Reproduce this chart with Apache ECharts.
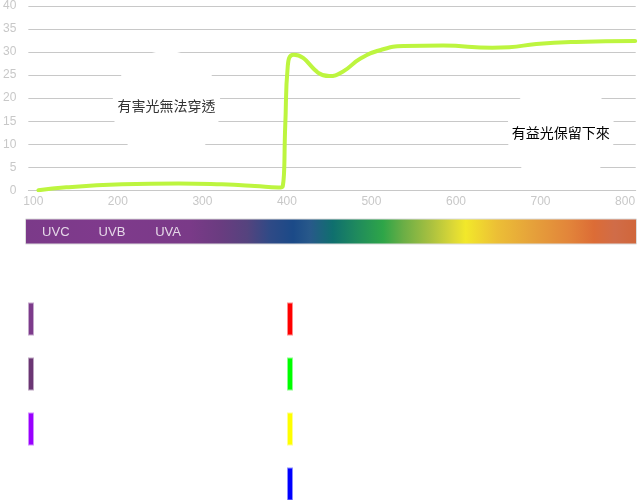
<!DOCTYPE html>
<html><head><meta charset="utf-8">
<script src="https://cdn.jsdelivr.net/npm/echarts@6/dist/echarts.min.js"></script>
<style>html,body{margin:0;padding:0;background:#fff}#c{width:638px;height:500px}</style>
</head><body><div id="c"></div>
<script>
// ---- data ----
const xTicks = [100, 200, 300, 400, 500, 600, 700, 800];
const xMin = 94.1, xMax = 812.6;
const yMin = 0, yMax = 40, yStep = 5;
const curveX = [106, 139, 205, 272, 323, 362, 390, 395, 398, 401, 408, 450, 466, 487, 511, 538, 585, 643, 663, 695, 742, 812];
const curveY = [0, 0.65, 1.3, 1.5, 1.3, 0.95, 0.6, 0.8, 14, 27, 29.4, 24.8, 25.75, 28.6, 30.45, 31.3, 31.4, 30.95, 31.05, 31.75, 32.2, 32.4];
const noteText = ['有害光無法穿透', '有益光保留下來'];
const noteX = [257.5, 724];
const noteY = [18.3, 12.55];
const bandNames = ['UVC', 'UVB', 'UVA'];
const bandX = [130.3, 196.2, 262];
const legendLeftNames = ['UVC', 'UVB', 'UVA'];
const legendLeftColors = ['#7d3b8b', '#6b3674', '#9900ff'];
const legendRightNames = ['紅', '綠', '黃', '藍'];
const legendRightColors = ['#ff0000', '#00ff00', '#ffff00', '#0000ff'];

function alpha(hex, a) {
  const n = parseInt(hex.slice(1), 16);
  return 'rgba(' + ((n >> 16) & 255) + ',' + ((n >> 8) & 255) + ',' + (n & 255) + ',' + a + ')';
}

const chart = echarts.init(document.getElementById('c'), null, {renderer: 'canvas'});
const font = 'Liberation Sans, Arial, sans-serif';
const cjk = 'Noto Sans CJK TC, sans-serif';

const legendSeries = legendLeftNames.map((n, i) => ({
  type: 'bar', name: n, data: [], xAxisIndex: 0, yAxisIndex: 0,
  itemStyle: {color: legendLeftColors[i], borderColor: alpha(legendLeftColors[i], 0.45), borderWidth: 1}
})).concat(legendRightNames.map((n, i) => ({
  type: 'bar', name: n, data: [], xAxisIndex: 0, yAxisIndex: 0,
  itemStyle: {color: legendRightColors[i], borderColor: alpha(legendRightColors[i], 0.45), borderWidth: 1}
})));

const legendCommon = {
  orient: 'vertical', top: 302.5, height: 240, itemWidth: 4, itemHeight: 31, itemGap: 22,
  icon: 'rect', formatter: () => '', selectedMode: false, padding: 0,
  textStyle: {fontSize: 1}
};

chart.setOption({
  animation: false,
  backgroundColor: '#fff',
  grid: [
    {left: 25, right: 1, top: 6, height: 184.3},
    {left: 25, right: 1, top: 218.5, height: 26}
  ],
  xAxis: [
    {type: 'value', gridIndex: 0, min: xMin, max: xMax,
     axisLine: {show: true, lineStyle: {color: '#c8c8c8'}},
     axisTick: {show: false},
     splitLine: {show: false},
     axisLabel: {customValues: xTicks, color: '#c8c8c8', fontSize: 12, fontFamily: font, margin: 5}},
    {type: 'category', gridIndex: 1, data: ['spectrum'], show: false, boundaryGap: true},
    {type: 'value', gridIndex: 1, min: xMin, max: xMax, show: false}
  ],
  yAxis: [
    {type: 'value', gridIndex: 0, min: yMin, max: yMax, interval: yStep,
     axisLine: {show: false}, axisTick: {show: false},
     splitLine: {show: true, lineStyle: {color: '#c8c8c8', width: 1}},
     axisLabel: {color: '#c8c8c8', fontSize: 12, fontFamily: font, margin: 12}},
    {type: 'value', gridIndex: 1, min: 0, max: 1, show: false}
  ],
  legend: [
    Object.assign({left: 28, data: legendLeftNames}, legendCommon),
    Object.assign({left: 287, data: legendRightNames}, legendCommon)
  ],
  series: [
    {
      type: 'line', name: 'curve', xAxisIndex: 0, yAxisIndex: 0,
      data: curveX.map((x, i) => [x, curveY[i]]),
      smooth: true, symbol: 'none',
      lineStyle: {color: '#bdf53f', width: 4, cap: 'round', join: 'round'},
      markPoint: {
        symbol: 'circle', symbolSize: 0, silent: true,
        data: noteText.map((t, i) => ({
          name: t, coord: [noteX[i], noteY[i]],
          label: {
            show: true, position: 'inside', formatter: '{b}',
            color: i === 0 ? '#333' : '#000', fontSize: 14, fontFamily: cjk,
            backgroundColor: '#fff', padding: i === 0 ? [48, 5] : [43, 5], borderRadius: 54
          }
        }))
      }
    },
    {
      type: 'bar', name: 'spectrumBar', xAxisIndex: 1, yAxisIndex: 1,
      data: [1], barWidth: '100%', silent: true,
      itemStyle: {
        borderColor: '#dcdcdc', borderWidth: 1,
        color: new echarts.graphic.LinearGradient(0, 0, 1, 0, [
          {offset: 0, color: '#7b3a89'},
          {offset: 0.123, color: '#7f3a8c'},
          {offset: 0.27, color: '#7a3a88'},
          {offset: 0.319, color: '#6a3c80'},
          {offset: 0.363, color: '#55437e'},
          {offset: 0.40, color: '#2f4a86'},
          {offset: 0.438, color: '#1b4a88'},
          {offset: 0.466, color: '#28598a'},
          {offset: 0.503, color: '#0f6f6e'},
          {offset: 0.542, color: '#1f8a5d'},
          {offset: 0.585, color: '#2ea548'},
          {offset: 0.618, color: '#6aae46'},
          {offset: 0.662, color: '#a8c040'},
          {offset: 0.70, color: '#dcd836'},
          {offset: 0.72, color: '#f2e82a'},
          {offset: 0.771, color: '#ecbf36'},
          {offset: 0.825, color: '#e6a33a'},
          {offset: 0.89, color: '#e2843a'},
          {offset: 0.93, color: '#dc6c36'},
          {offset: 0.964, color: '#d06c48'},
          {offset: 1, color: '#d0663a'}
        ])
      }
    },
    {
      type: 'scatter', name: 'bands', xAxisIndex: 2, yAxisIndex: 1,
      symbolSize: 0, silent: true,
      data: bandNames.map((n, i) => ({name: n, value: [bandX[i], 0.45]})),
      label: {show: true, position: 'inside', formatter: '{b}', color: '#fff', fontSize: 13, fontFamily: font}
    }
  ].concat(legendSeries)
});
</script></body></html>
